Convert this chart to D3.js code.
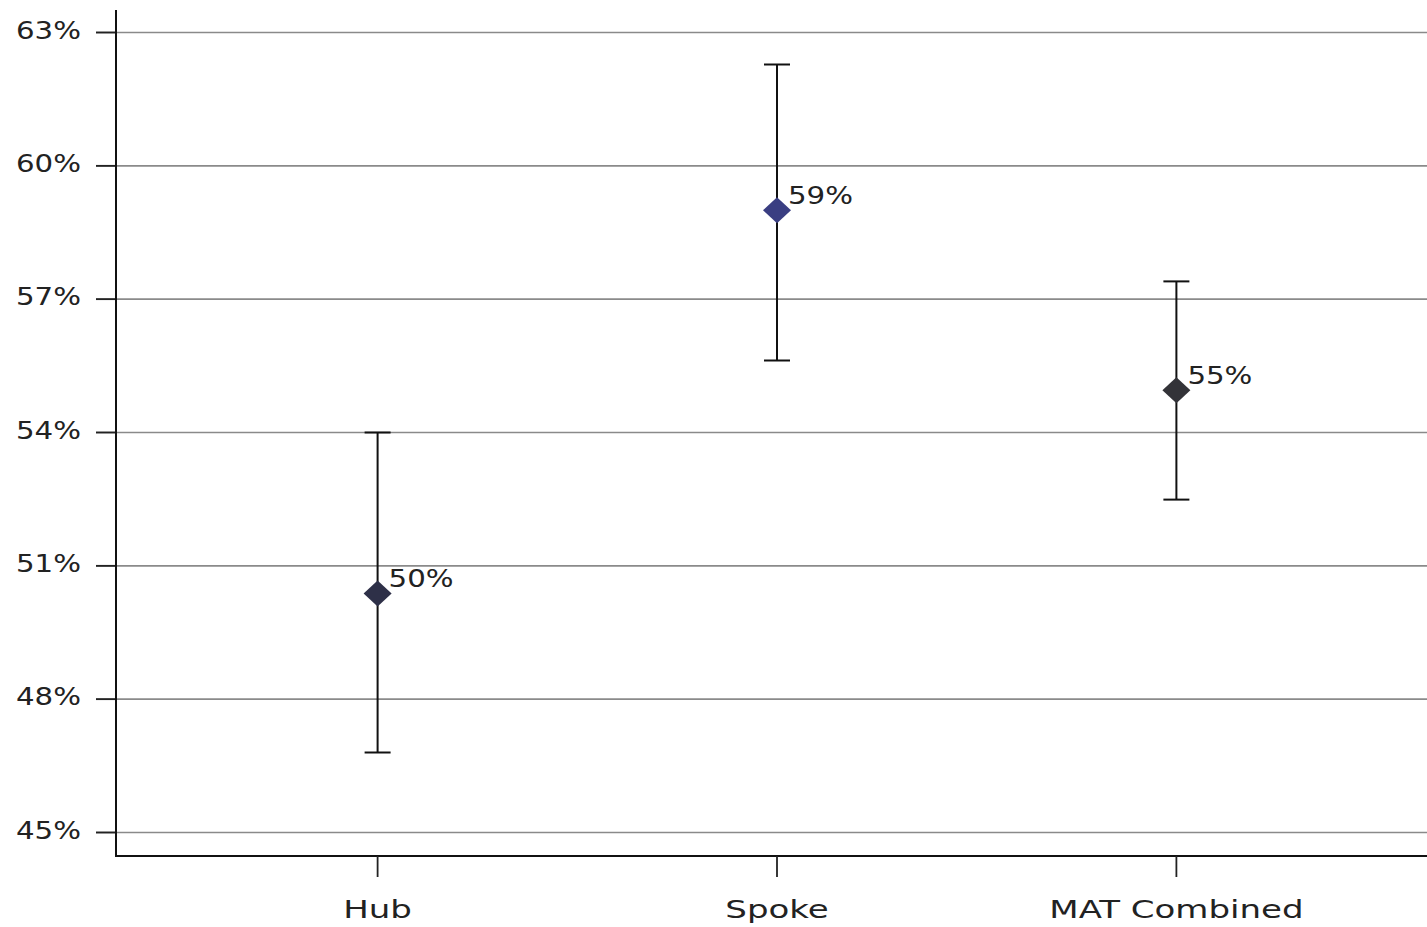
<!DOCTYPE html>
<html><head><meta charset="utf-8">
<script src="https://cdn.jsdelivr.net/npm/d3@7"></script>
<style>body{margin:0;background:#fff}svg{display:block}</style>
</head><body>
<svg id="c" width="1427" height="927"></svg>
<script>
const categories = ["Hub", "Spoke", "MAT Combined"];
const values = [50.38, 59.0, 54.95];
const lowers = [46.8, 55.62, 52.49];
const uppers = [54.0, 62.28, 57.4];
const pointLabels = ["50%", "59%", "55%"];
const pointColors = ["#2e3048", "#3a3e82", "#333338"];
const yTicks = [45, 48, 51, 54, 57, 60, 63];

const svg = d3.select("#c");
const font = "DejaVu Sans, sans-serif";

const x = d3.scalePoint().domain(categories).range([116, 1438]).padding(0.655);
const y = d3.scaleLinear().domain([45, 63]).range([832.5, 32.5]);

// gridlines
svg.append("g").selectAll("line").data(yTicks).join("line")
  .attr("x1", 96).attr("x2", 1427)
  .attr("y1", d => y(d)).attr("y2", d => y(d))
  .attr("stroke", "#8a8a8a").attr("stroke-width", 1.6);

// y tick marks on axis
svg.append("g").selectAll("line").data(yTicks).join("line")
  .attr("x1", 96).attr("x2", 116)
  .attr("y1", d => y(d)).attr("y2", d => y(d))
  .attr("stroke", "#222").attr("stroke-width", 1.8);

// y tick labels
svg.append("g").selectAll("text").data(yTicks).join("text")
  .attr("transform", d => `translate(81,${y(d)}) scale(1.17,1)`)
  .attr("text-anchor", "end").attr("dy", "0.25em")
  .attr("font-family", font).attr("font-size", 25).attr("fill", "#222")
  .text(d => d + "%");

// axes lines
svg.append("line").attr("x1", 116).attr("x2", 116).attr("y1", 10).attr("y2", 857)
  .attr("stroke", "#111").attr("stroke-width", 2);
svg.append("line").attr("x1", 115).attr("x2", 1427).attr("y1", 856).attr("y2", 856)
  .attr("stroke", "#111").attr("stroke-width", 2);

// x ticks and labels
svg.append("g").selectAll("line").data(categories).join("line")
  .attr("x1", d => x(d)).attr("x2", d => x(d)).attr("y1", 856).attr("y2", 877)
  .attr("stroke", "#222").attr("stroke-width", 1.8);
svg.append("g").selectAll("text").data(categories).join("text")
  .attr("transform", d => `translate(${x(d)},918) scale(1.36,1)`)
  .attr("text-anchor", "middle")
  .attr("font-family", font).attr("font-size", 25).attr("fill", "#222")
  .text(d => d);

// error bars
const g = svg.append("g");
categories.forEach((c, i) => {
  const cx = x(c);
  g.append("line").attr("x1", cx).attr("x2", cx).attr("y1", y(uppers[i])).attr("y2", y(lowers[i]))
    .attr("stroke", "#111").attr("stroke-width", 2);
  [uppers[i], lowers[i]].forEach(v => {
    g.append("line").attr("x1", cx - 13).attr("x2", cx + 13).attr("y1", y(v)).attr("y2", y(v))
      .attr("stroke", "#111").attr("stroke-width", 2);
  });
});

// diamonds
svg.append("g").selectAll("path").data(categories).join("path")
  .attr("transform", (d, i) => `translate(${x(d)},${y(values[i])})`)
  .attr("d", "M0,-13L14,0L0,13L-14,0Z")
  .attr("fill", (d, i) => pointColors[i]);

// point labels
svg.append("g").selectAll("text").data(categories).join("text")
  .attr("transform", (d, i) => `translate(${x(d) + 11},${y(values[i]) - 6}) scale(1.17,1)`)
  .attr("font-family", font).attr("font-size", 25).attr("fill", "#222")
  .text((d, i) => pointLabels[i]);
</script>
</body></html>
